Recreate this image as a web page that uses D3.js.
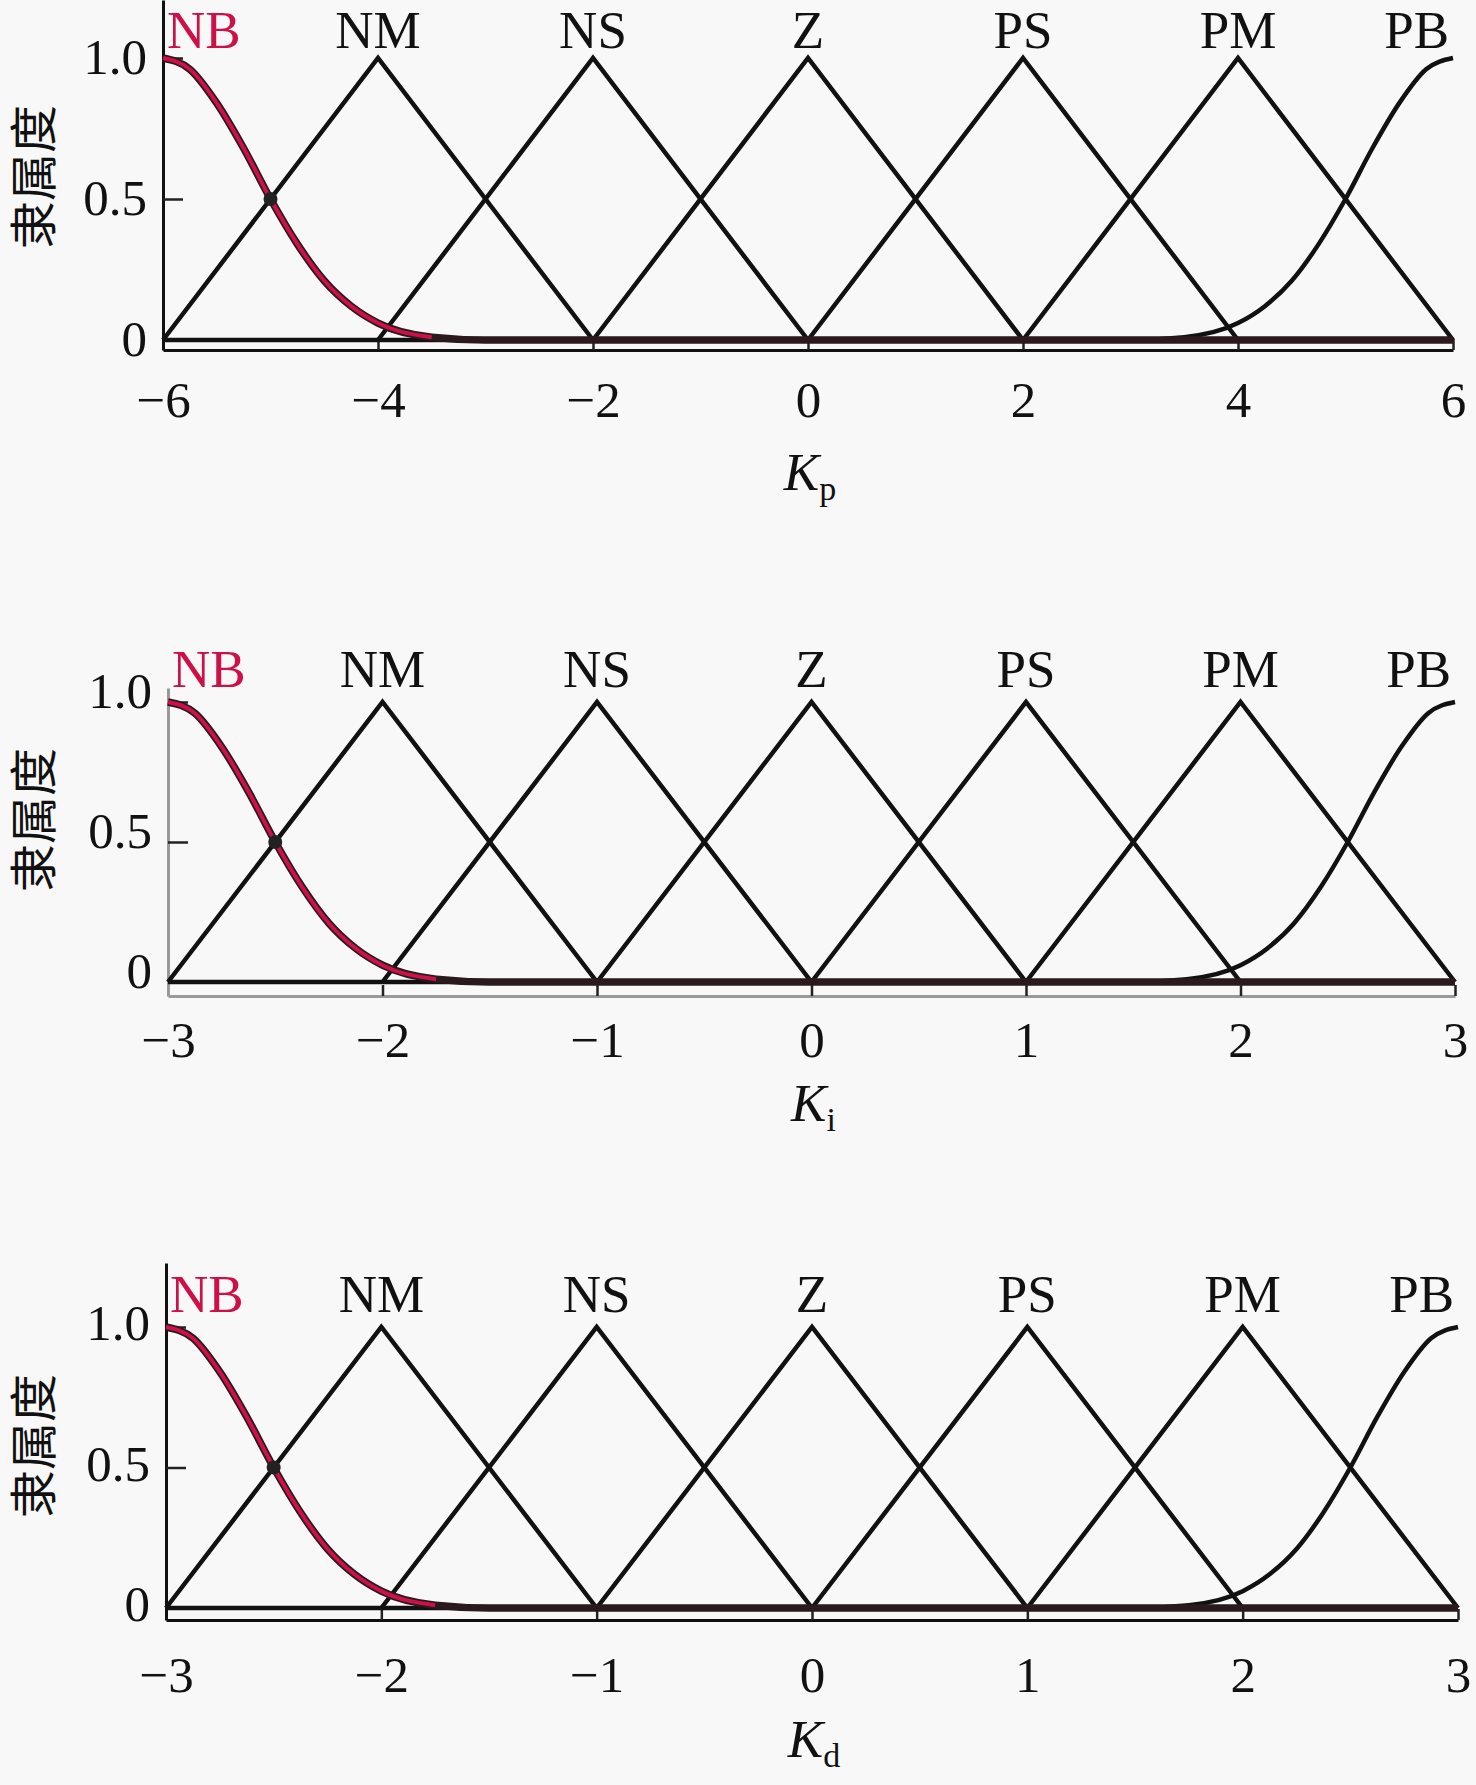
<!DOCTYPE html>
<html>
<head>
<meta charset="utf-8">
<script src="https://cdn.jsdelivr.net/npm/d3@7"></script>
<style>
  html, body { margin: 0; padding: 0; background: #f8f8f8; }
  svg { display: block; }
  .tick text { font-family: "Liberation Serif", "Times New Roman", serif; fill: #111; }
</style>
</head>
<body>
<svg width="1476" height="1785"></svg>
<script>
// fuzzy term names, one per membership function
var termNames = ["NB", "NM", "NS", "Z", "PS", "PM", "PB"];

// x tick values of the three universes
var kpTicks = [-6, -4, -2, 0, 2, 4, 6],
    kiTicks = [-3, -2, -1, 0, 1, 2, 3],
    kdTicks = [-3, -2, -1, 0, 1, 2, 3];

var yTickValues = [0, 0.5, 1],
    yTickLabels = ["0", "0.5", "1.0"];

// NB shoulder curve: offset from the left end (in term steps) -> membership
var edgeOffsets = [0, 0.125, 0.25, 0.375, 0.5, 0.625, 0.75, 0.875, 1, 1.25, 1.5, 2, 6],
    edgeValues = [1, 0.96, 0.84, 0.68, 0.5, 0.34, 0.21, 0.12, 0.06, 0.01, 0, 0, 0];

// inner triangles: offset from centre (in term steps) -> membership
var triOffsets = [-1, 0, 1],
    triValues = [0, 1, 0];

// marked crossing point of NB and NM
var markOffset = 0.5, markValue = 0.5;

var panels = [
    {ticks: kpTicks, sub: "p", left: 163, right: 1453, yZero: 340, yOne: 58, axisY: 350, topY: 0,
     axisColor: "#111", tickGap: 67, termGap: 10, yShift: -2, kY: 490, cnY: 177},
    {ticks: kiTicks, sub: "i", left: 168, right: 1455, yZero: 982, yOne: 702, axisY: 996, topY: 688,
     axisColor: "#999", tickGap: 61, termGap: 15, yShift: -12, kY: 1121, cnY: 820},
    {ticks: kdTicks, sub: "d", left: 166, right: 1458, yZero: 1608, yOne: 1327, axisY: 1620, topY: 1263,
     axisColor: "#111", tickGap: 72, termGap: 15, yShift: -5, kY: 1757, cnY: 1446}
];

var svg = d3.select("svg");
var serif = "'Liberation Serif', 'Times New Roman', serif";
var red = "#cc1148";

panels.forEach(drawPanel);

function drawPanel(p) {
    var lo = p.ticks[0],
        hi = p.ticks[p.ticks.length - 1],
        step = (hi - lo) / (termNames.length - 1);

    var x = d3.scaleLinear().domain([lo, hi]).range([p.left, p.right]);
    var y = d3.scaleLinear().domain([0, 1]).range([p.yZero, p.yOne]);
    // stretch y so the axis line sits a bit below zero, as in the picture
    y.domain([y.invert(p.axisY), y.invert(p.topY)]).range([p.axisY, p.topY]);

    var g = svg.append("g");

    // axes
    var gx = g.append("g")
        .attr("transform", "translate(0," + p.axisY + ")")
        .call(d3.axisBottom(x).tickValues(p.ticks).tickSizeInner(-11).tickSizeOuter(0)
            .tickFormat(d3.format("d")));
    gx.selectAll("text").attr("y", p.tickGap).attr("dy", 0).style("font-size", "51px");

    var gy = g.append("g")
        .attr("transform", "translate(" + p.left + ",0)")
        .call(d3.axisLeft(y).tickValues(yTickValues).tickSizeInner(-20).tickSizeOuter(0)
            .tickPadding(16).tickFormat((d, i) => yTickLabels[i]));
    gy.selectAll("text").attr("dy", "0.35em").attr("y", p.yShift).style("font-size", "51px");

    [gx, gy].forEach(a => {
        a.select(".domain").attr("stroke", p.axisColor).attr("stroke-width", 3);
        a.selectAll(".tick line").attr("stroke", "#222").attr("stroke-width", 2.5);
    });

    var line = d3.line().x(d => x(d[0])).y(d => y(d[1]));
    var smooth = d3.line().x(d => x(d[0])).y(d => y(d[1])).curve(d3.curveMonotoneX);

    // triangles NM .. PM
    for (var i = 1; i < termNames.length - 1; i++) {
        var c = lo + i * step;
        var pts = triOffsets.map((o, k) => [c + o * step, triValues[k]]);
        g.append("path")
            .attr("d", line(pts))
            .attr("fill", "none")
            .attr("stroke", "#111")
            .attr("stroke-width", 4.5)
            .attr("stroke-linejoin", "miter");
    }

    // PB shoulder (mirror of NB)
    var pb = edgeOffsets.map((o, k) => [hi - o * step, edgeValues[k]]).reverse();
    g.append("path")
        .attr("d", smooth(pb))
        .attr("fill", "none")
        .attr("stroke", "#111")
        .attr("stroke-width", 4.5);

    // NB shoulder, highlighted
    var nb = edgeOffsets.map((o, k) => [lo + o * step, edgeValues[k]]);
    g.append("path")
        .attr("d", smooth(nb))
        .attr("fill", "none")
        .attr("stroke", "#2a1a1e")
        .attr("stroke-width", 7.5);
    g.append("path")
        .attr("d", smooth(nb.filter(d => d[1] > 0.003)))
        .attr("fill", "none")
        .attr("stroke", red)
        .attr("stroke-width", 4);

    g.append("circle")
        .attr("cx", x(lo + markOffset * step))
        .attr("cy", y(markValue))
        .attr("r", 7)
        .attr("fill", "#222");

    // term labels over the peaks
    termNames.forEach((name, i) => {
        var t = g.append("text")
            .attr("y", y(1) - p.termGap)
            .attr("font-family", serif)
            .attr("font-size", 53)
            .attr("fill", i == 0 ? red : "#111")
            .text(name);
        if (i == 0) {
            t.attr("x", x(lo) + 4).attr("text-anchor", "start");
        } else if (i == termNames.length - 1) {
            t.attr("x", x(hi) - 4).attr("text-anchor", "end");
        } else {
            t.attr("x", x(lo + i * step)).attr("text-anchor", "middle");
        }
    });

    // x axis title K_p / K_i / K_d
    var kt = g.append("text")
        .attr("x", x((lo + hi) / 2) + 2)
        .attr("y", p.kY)
        .attr("text-anchor", "middle")
        .attr("font-family", serif)
        .attr("font-size", 53)
        .attr("fill", "#111");
    kt.append("tspan").attr("font-style", "italic").text("K");
    kt.append("tspan").attr("font-size", 34).attr("dy", 10).text(p.sub);

    // y axis title
    g.append("text")
        .attr("transform", "translate(34," + p.cnY + ") rotate(-90)")
        .attr("text-anchor", "middle")
        .attr("dy", "0.35em")
        .attr("font-family", "'Noto Sans CJK SC', sans-serif")
        .attr("font-size", 48)
        .attr("fill", "#111")
        .text("隶属度");
}
</script>
</body>
</html>
